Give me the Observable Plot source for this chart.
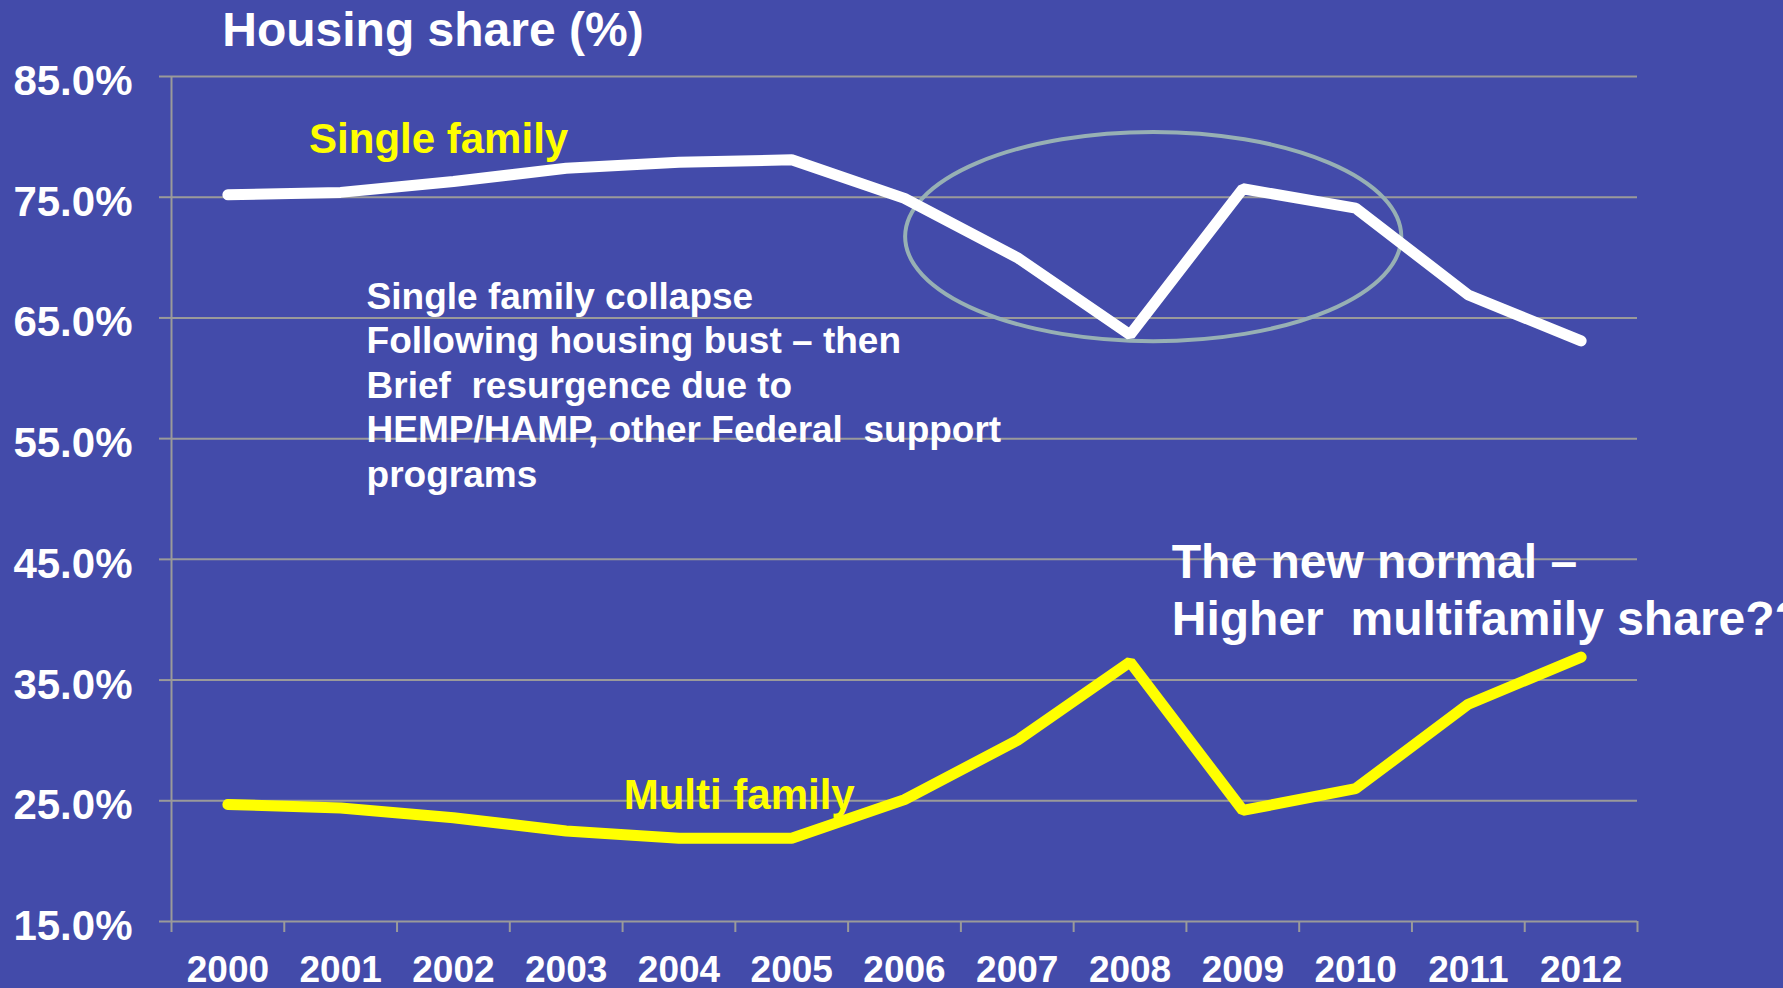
<!DOCTYPE html>
<html>
<head>
<meta charset="utf-8">
<script src="https://cdn.jsdelivr.net/npm/d3@7"></script>
<script src="https://cdn.jsdelivr.net/npm/@observablehq/plot@0.6"></script>
<style>
  html, body { margin: 0; padding: 0; background: #434BAA; overflow: hidden; }
  #chart svg { display: block; overflow: hidden; }
</style>
</head>
<body>
<div id="chart"></div>
<script>
// ---- data ----
const years = [2000, 2001, 2002, 2003, 2004, 2005, 2006, 2007, 2008, 2009, 2010, 2011, 2012];
const singleFamily = [75.2, 75.4, 76.3, 77.4, 77.9, 78.1, 74.9, 70.0, 63.6, 75.7, 74.1, 66.9, 63.1];
const multiFamily  = [24.7, 24.4, 23.6, 22.5, 21.9, 21.9, 25.1, 30.0, 36.5, 24.2, 26.0, 33.0, 36.9];
const yTicks = [15, 25, 35, 45, 55, 65, 75, 85];
const xBoundaries = [1999.5, 2000.5, 2001.5, 2002.5, 2003.5, 2004.5, 2005.5, 2006.5, 2007.5, 2008.5, 2009.5, 2010.5, 2011.5, 2012.5];

const titleText = "Housing share (%)";
const singleLabel = "Single family";
const multiLabel = "Multi family";
const noteText = "Single family collapse\nFollowing housing bust \u2013 then\nBrief  resurgence due to\nHEMP/HAMP, other Federal  support\nprograms";
const newNormalText = "The new normal \u2013\nHigher  multifamily share??";

// annotation anchors, in data units
const ellipseSpec = {cx: 2008.21, cy: 71.7, rx: 2.2, ry: 8.67};

const singleRows = years.map((year, i) => ({year, value: singleFamily[i]}));
const multiRows = years.map((year, i) => ({year, value: multiFamily[i]}));

const bg = "#434BAA";
const gridColor = "#9a9a9a";
const font = "'Liberation Sans', Arial, Helvetica, sans-serif";

const ellipseMark = (index, scales) => {
  const cx = scales.x(ellipseSpec.cx);
  const cy = scales.y(ellipseSpec.cy);
  const rx = Math.abs(scales.x(ellipseSpec.cx + ellipseSpec.rx) - cx);
  const ry = Math.abs(scales.y(ellipseSpec.cy + ellipseSpec.ry) - cy);
  return d3.create("svg:ellipse")
    .attr("cx", cx).attr("cy", cy).attr("rx", rx).attr("ry", ry)
    .attr("fill", "none").attr("stroke", "#97B0B4").attr("stroke-width", 4)
    .node();
};

const chart = Plot.plot({
  width: 1783,
  height: 988,
  marginLeft: 171,
  marginRight: 146,
  marginTop: 76,
  marginBottom: 67,
  style: {background: bg, color: "white", fontFamily: font, fontWeight: "bold"},
  x: {type: "linear", domain: [1999.5, 2012.5], label: null},
  y: {type: "linear", domain: [15, 85], label: null},
  marks: [
    Plot.ruleY(yTicks, {x1: 1999.5, x2: 2012.5, stroke: gridColor, strokeWidth: 2}),
    Plot.ruleX([1999.5], {y1: 15, y2: 85, stroke: gridColor, strokeWidth: 2}),
    Plot.axisY({ticks: yTicks, tickSize: 12, tickFormat: () => "", label: null, stroke: gridColor, strokeWidth: 2}),
    Plot.axisY({ticks: yTicks, tickSize: 0, tickPadding: 39, fontSize: 42, dy: 5, fill: "white", label: null,
      tickFormat: d => d.toFixed(1) + "%"}),
    Plot.axisX({ticks: xBoundaries, tickSize: 11, tickFormat: () => "", label: null, stroke: gridColor, strokeWidth: 2}),
    Plot.axisX({ticks: years, tickSize: 0, tickPadding: 34, fontSize: 37, fill: "white", label: null,
      tickFormat: d => String(d)}),
    ellipseMark,
    Plot.line(singleRows, {x: "year", y: "value", stroke: "white", strokeWidth: 11,
      strokeLinecap: "round", strokeLinejoin: "miter"}),
    Plot.line(multiRows, {x: "year", y: "value", stroke: "#FFFF00", strokeWidth: 11,
      strokeLinecap: "round", strokeLinejoin: "miter"}),
    Plot.text([titleText], {x: 1999.95, y: 88.8, text: d => d, textAnchor: "start",
      fontSize: 48, fill: "white", fontWeight: "bold"}),
    Plot.text([singleLabel], {x: 2000.72, y: 79.78, text: d => d, textAnchor: "start",
      fontSize: 42, fill: "#FFFF00", fontWeight: "bold"}),
    Plot.text([multiLabel], {x: 2003.51, y: 25.43, text: d => d, textAnchor: "start",
      fontSize: 42, fill: "#FFFF00", fontWeight: "bold"}),
    Plot.text([noteText], {x: 2001.23, y: 68.4, text: d => d, textAnchor: "start",
      lineAnchor: "top", lineHeight: 1.205, fontSize: 37, fill: "white", fontWeight: "bold"}),
    Plot.text([newNormalText], {x: 2008.37, y: 46.8, text: d => d, textAnchor: "start",
      lineAnchor: "top", lineHeight: 1.19, fontSize: 48, fill: "white", fontWeight: "bold"})
  ]
});

document.getElementById("chart").appendChild(chart);
</script>
</body>
</html>
